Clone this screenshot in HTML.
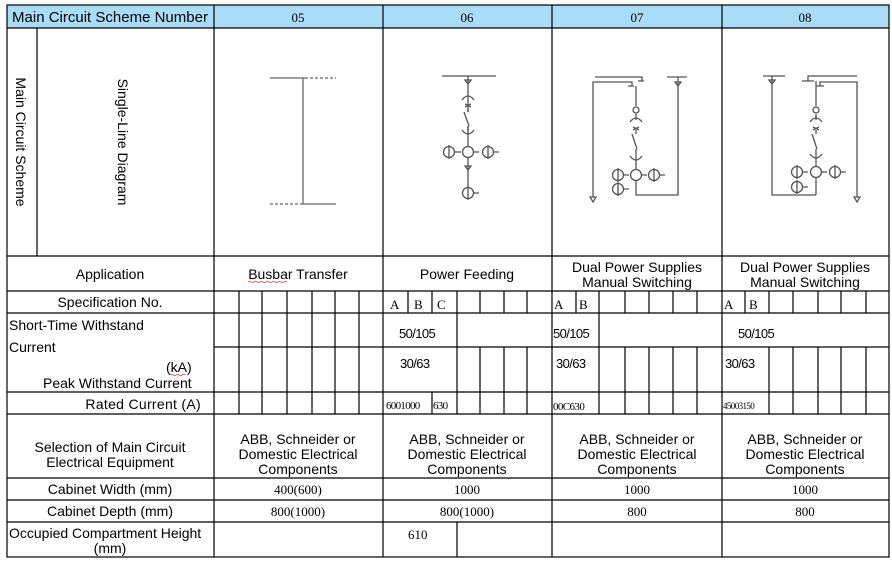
<!DOCTYPE html>
<html><head><meta charset="utf-8">
<style>
html,body{margin:0;padding:0;background:#fff;}
svg{display:block;}
text{font-family:"Liberation Sans",sans-serif;font-size:14px;fill:#000;}
.s{font-family:"Liberation Serif",serif;font-size:13px;}
.n{font-family:"Liberation Sans",sans-serif;font-size:13px;letter-spacing:-0.6px;}
.d{stroke:#555;stroke-width:1.3;fill:none;}
</style></head><body>
<svg width="892" height="565" viewBox="0 0 892 565" xmlns="http://www.w3.org/2000/svg">
<rect x="7" y="5" width="882" height="23" fill="#a9dcf6"/>
<g stroke="#000" stroke-width="1.2" fill="none">
<rect x="7" y="5" width="882" height="552"/>
<line x1="7" y1="28" x2="889" y2="28"/>
<line x1="7" y1="256" x2="889" y2="256"/>
<line x1="7" y1="291" x2="889" y2="291"/>
<line x1="7" y1="313" x2="889" y2="313"/>
<line x1="214" y1="347" x2="889" y2="347"/>
<line x1="7" y1="392" x2="889" y2="392"/>
<line x1="7" y1="414" x2="889" y2="414"/>
<line x1="7" y1="478" x2="889" y2="478"/>
<line x1="7" y1="500" x2="889" y2="500"/>
<line x1="7" y1="522" x2="889" y2="522"/>
<line x1="214" y1="5" x2="214" y2="557"/>
<line x1="383" y1="5" x2="383" y2="557"/>
<line x1="552" y1="5" x2="552" y2="557"/>
<line x1="722" y1="5" x2="722" y2="557"/>
<line x1="37" y1="28" x2="37" y2="256"/>
<path d="M239 291V414M262 291V414M287 291V414M312 291V414M335 291V414M359 291V414"/>
<path d="M408 291V313M432 291V313M457 291V347M480 291V313M504 291V313M527 291V313"/>
<path d="M457 347V414M480 347V414M504 347V414M527 347V414M432 392V414"/>
<path d="M457 522V557"/>
<path d="M576 291V313M599 291V414M625 291V313M649 291V313M673 291V313M697 291V313"/>
<path d="M625 347V414M649 347V414M673 347V414M697 347V414"/>
<path d="M745 291V313M769 291V313M793 291V313M818 291V313M841 291V313M866 291V313"/>
<path d="M769 347V414M793 347V414M818 347V414M841 347V414M866 347V414"/>
</g>

<text x="110" y="22" text-anchor="middle" style="font-size:15px">Main Circuit Scheme Number</text>
<text class="s" x="298" y="22" text-anchor="middle">05</text>
<text class="s" x="467" y="22" text-anchor="middle">06</text>
<text class="s" x="637" y="22" text-anchor="middle">07</text>
<text class="s" x="805" y="22" text-anchor="middle">08</text>
<text transform="translate(16,142) rotate(90)" text-anchor="middle">Main Circuit Scheme</text>
<text transform="translate(118,142) rotate(90)" text-anchor="middle">Single-Line Diagram</text>

<g stroke="#666" stroke-width="1.3">
<line x1="270" y1="78" x2="305" y2="78"/>
<line x1="305" y1="78" x2="336" y2="78" stroke-dasharray="3,2"/>
<line x1="303" y1="78" x2="303" y2="204"/>
<line x1="270" y1="204" x2="303" y2="204" stroke-dasharray="3,2"/>
<line x1="303" y1="204" x2="336" y2="204"/>
</g>

<g class="d">
<line x1="442" y1="76" x2="496" y2="76"/>
<path d="M468 76V200"/>
<path d="M465 80h6l-3 4z"/>
<path d="M462 100 q6 -8 12 0"/>
<path d="M465 104l6 3M471 104l-6 3"/>
<path d="M468 108V112 M468 126V134"/>
<path d="M462 130 q6 8 12 0"/>
<circle cx="468" cy="152" r="5.5" fill="#fff"/>
<circle cx="449" cy="152" r="5.5"/><path d="M449 145V159M455 152h6"/>
<circle cx="488" cy="152" r="5.5"/><path d="M488 145V159M494 152h5"/>
<path d="M474 152h5"/>
<path d="M465 166h6l-3 4z"/>
<circle cx="468" cy="193" r="5.5"/><path d="M474 193h5"/>
</g>
<rect x="466" y="112" width="4" height="14" fill="#fff"/>
<path d="M464 112 l5 14" stroke="#555" stroke-width="1.3" fill="none"/>

<g class="d">
<path d="M595 77H642V81"/>
<path d="M593 197V82H632V86M628 86h6"/>
<path d="M638 81h6"/>
<path d="M590 197h6l-3 5z"/>
<path d="M636 86V106M636 114V120"/>
<circle cx="636" cy="110" r="3"/>
<path d="M630 122 q6 -8 12 0"/>
<path d="M633 127l6 3M639 127l-6 3"/>
<path d="M636 130V134 M632 134 l5 15 M636 149V160"/>
<path d="M630 156 q6 8 12 0"/>
<path d="M636 160V195H678V77M667 77H687"/>
<path d="M675 82h6l-3 4z"/>
<circle cx="636" cy="175" r="5.5" fill="#fff"/><path d="M642 175h5"/>
<circle cx="618" cy="175" r="5.5"/><path d="M618 168V182M624 175h5"/>
<circle cx="654" cy="175" r="5.5"/><path d="M654 168V182M660 175h5"/>
<circle cx="618" cy="189" r="5.5"/><path d="M618 182V196M624 189h5"/>
</g>

<g class="d">
<path d="M763 76H785M772 76V195H816"/>
<path d="M769 80h6l-3 4z"/>
<path d="M808 81V76H857M802 81h12"/>
<path d="M820 86V82H857V197M816 86h8"/>
<path d="M854 197h6l-3 5z"/>
<path d="M816 81V106M816 114V120"/>
<circle cx="816" cy="110" r="3"/>
<path d="M810 122 q6 -8 12 0"/>
<path d="M813 127l6 3M819 127l-6 3"/>
<path d="M816 130V134 M812 134 l5 15 M816 149V158"/>
<path d="M810 154 q6 8 12 0"/>
<path d="M816 158V195"/>
<circle cx="816" cy="172" r="5.5" fill="#fff"/><path d="M822 172h5"/>
<circle cx="797" cy="172" r="5.5"/><path d="M797 165V179M803 172h5"/>
<circle cx="835" cy="172" r="5.5"/><path d="M835 165V179M841 172h5"/>
<circle cx="797" cy="187" r="5.5"/><path d="M797 180V194M803 187h5"/>
</g>

<text x="110" y="279" text-anchor="middle">Application</text>
<text x="298" y="279" text-anchor="middle">Busbar Transfer</text>
<path d="M248 282q1.5 -1.5 3 0t3 0t3 0t3 0t3 0t3 0t3 0t3 0t3 0t3 0t3 0t3 0t3 0" stroke="#d33" stroke-width="0.8" fill="none"/>
<text x="467" y="279" text-anchor="middle">Power Feeding</text>
<text x="637" y="272" text-anchor="middle">Dual Power Supplies</text>
<text x="637" y="287" text-anchor="middle">Manual Switching</text>
<text x="805" y="272" text-anchor="middle">Dual Power Supplies</text>
<text x="805" y="287" text-anchor="middle">Manual Switching</text>

<text x="110" y="307" text-anchor="middle">Specification No.</text>
<text class="s" x="390" y="309">A</text><text class="s" x="414" y="309">B</text><text class="s" x="437" y="309">C</text>
<text class="s" x="554" y="309">A</text><text class="s" x="579" y="309">B</text>
<text class="s" x="724" y="309">A</text><text class="s" x="749" y="309">B</text>

<text x="9" y="330">Short-Time Withstand</text>
<text x="9" y="352">Current</text>
<text x="166" y="372">(kA)</text>
<path d="M170 375q1.5 -1.5 3 0t3 0t3 0t3 0t3 0" stroke="#d33" stroke-width="0.8" fill="none"/>
<text x="43" y="388">Peak Withstand Current</text>
<text class="n" x="399" y="338">50/105</text>
<text class="n" x="553" y="338">50/105</text>
<text class="n" x="738" y="338">50/105</text>
<text class="n" x="400" y="368">30/63</text>
<text class="n" x="556" y="368">30/63</text>
<text class="n" x="725" y="368">30/63</text>

<text x="201" y="409" text-anchor="end" style="letter-spacing:0.3px">Rated Current (A)</text>
<text class="s" x="386" y="409" style="font-size:11px;letter-spacing:-0.7px">6001000</text>
<text class="s" x="433" y="409" style="font-size:11px;letter-spacing:-0.7px">630</text>
<text class="s" x="553" y="410" style="font-size:11px;letter-spacing:-0.6px">00C630</text>
<text class="s" x="723" y="409" style="font-size:9px;letter-spacing:-0.6px">45003150</text>

<text x="110" y="452" text-anchor="middle">Selection of Main Circuit</text>
<text x="110" y="467" text-anchor="middle">Electrical Equipment</text>
<g text-anchor="middle">
<text x="298" y="444">ABB, Schneider or</text><text x="298" y="459">Domestic Electrical</text><text x="298" y="474">Components</text>
<text x="467" y="444">ABB, Schneider or</text><text x="467" y="459">Domestic Electrical</text><text x="467" y="474">Components</text>
<text x="637" y="444">ABB, Schneider or</text><text x="637" y="459">Domestic Electrical</text><text x="637" y="474">Components</text>
<text x="805" y="444">ABB, Schneider or</text><text x="805" y="459">Domestic Electrical</text><text x="805" y="474">Components</text>
</g>

<text x="110" y="494" text-anchor="middle">Cabinet Width (mm)</text>
<text class="s" x="298" y="494" text-anchor="middle">400(600)</text>
<text class="s" x="467" y="494" text-anchor="middle">1000</text>
<text class="s" x="637" y="494" text-anchor="middle">1000</text>
<text class="s" x="805" y="494" text-anchor="middle">1000</text>
<text x="110" y="516" text-anchor="middle">Cabinet Depth (mm)</text>
<text class="s" x="298" y="516" text-anchor="middle">800(1000)</text>
<text class="s" x="467" y="516" text-anchor="middle">800(1000)</text>
<text class="s" x="637" y="516" text-anchor="middle">800</text>
<text class="s" x="805" y="516" text-anchor="middle">800</text>

<text x="9" y="538">Occupied Compartment Height</text>
<text x="110" y="553" text-anchor="middle">(mm)</text>
<text class="s" x="408" y="539">610</text>
</svg>
</body></html>
